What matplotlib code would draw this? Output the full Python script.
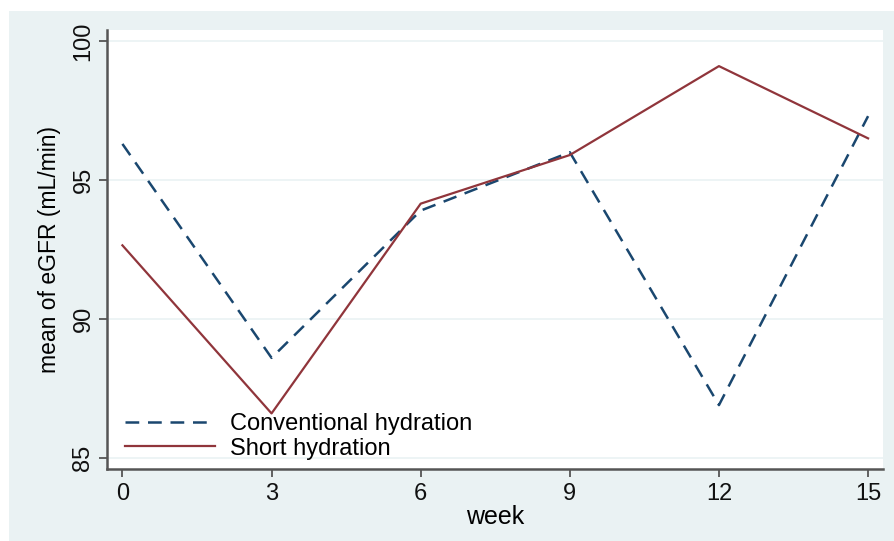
import matplotlib

matplotlib.use("Agg")

import matplotlib.pyplot as plt
from matplotlib.patches import Rectangle

plt.rcParams["font.family"] = ["Liberation Sans", "DejaVu Sans"]

weeks = [0, 3, 6, 9, 12, 15]
conventional = [96.3, 88.6, 93.9, 96.0, 86.9, 97.3]
short = [92.65, 86.6, 94.15, 95.9, 99.1, 96.5]
y_ticks = [85, 90, 95, 100]
x_ticks = [0, 3, 6, 9, 12, 15]

BG = "#eaf2f3"
NAVY = "#1a476f"
MAROON = "#90353b"
AXIS = "#555555"

fig = plt.figure(figsize=(8.95, 5.41), dpi=100)
fig.patch.set_facecolor("white")
fig.patches.append(Rectangle((9 / 895, 0), 1, 1 - 11 / 541, transform=fig.transFigure,
                             facecolor=BG, edgecolor="none", zorder=-10))

ax = fig.add_axes([107 / 895, 1 - 469 / 541, (883 - 107) / 895, (469 - 30) / 541])
ax.set_facecolor("white")

ax.plot(weeks, conventional, color=NAVY, linestyle=(0, (5.5, 3.5)), linewidth=1.8,
        label="Conventional hydration")
ax.plot(weeks, short, color=MAROON, linewidth=1.6, label="Short hydration")

ax.set_xlim(-0.31, 15.3)
ax.set_ylim(84.6, 100.4)
ax.set_xticks(x_ticks)
ax.set_yticks(y_ticks)
ax.set_yticklabels([str(v) for v in y_ticks], rotation=90, va="center")
ax.tick_params(axis="both", direction="out", length=6, width=1.3, color=AXIS,
               labelsize=17, labelcolor="#111111")
ax.tick_params(axis="x", pad=4)
ax.tick_params(axis="y", pad=3)

ax.grid(axis="y", color=BG, linewidth=1.2)
ax.set_axisbelow(True)
for side in ("top", "right"):
    ax.spines[side].set_visible(False)
for side in ("left", "bottom"):
    ax.spines[side].set_color(AXIS)
    ax.spines[side].set_linewidth(1.8)

ax.set_xlabel("week", fontsize=18, labelpad=0)
ax.set_ylabel("mean of eGFR (mL/min)", fontsize=16.5, labelpad=8)

ax.legend(loc="lower left", bbox_to_anchor=(0.011, 0.0), borderaxespad=0, frameon=False,
          fontsize=17, handlelength=3.8, handletextpad=0.64, labelspacing=0.1)

fig.savefig("out.png", dpi=100)
